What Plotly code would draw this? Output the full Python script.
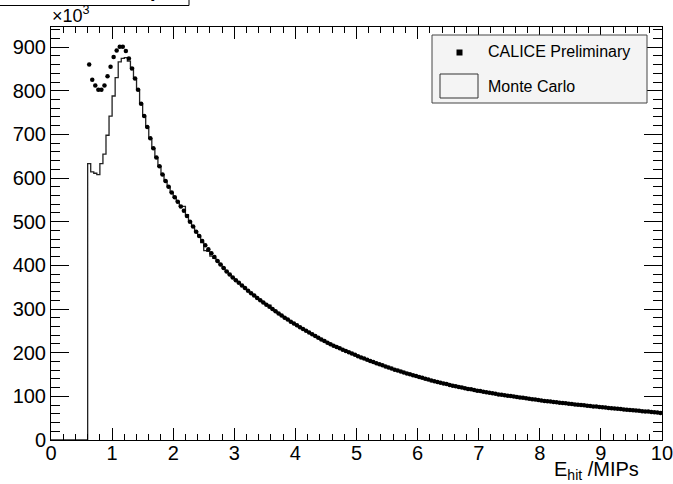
import plotly.graph_objects as go

# ---------------- data (values in units of 10^3) ----------------
bin_width = 0.05
first_edge = 0.60

data_vals = [
    860, 825, 812, 802, 802, 812, 833, 855, 877, 892,
    901, 901, 891, 874, 851, 828, 802, 770, 742, 717,
    691, 668, 647, 627, 608, 593, 580, 567, 556, 546,
    535, 525, 513, 500, 489, 477, 467, 456, 446, 437,
    428, 419, 410, 402, 394, 386, 379, 372, 366, 360,
    354, 348, 342, 336, 331, 325, 320, 315, 310, 305,
    300, 295, 290, 285, 280, 276, 271, 267, 263, 258.5,
    254, 250, 246, 242, 238, 234, 230, 226.5, 223, 219.5,
    216, 213, 210, 207, 204, 201, 198, 195, 192, 189,
    186.5, 184, 181, 178.5, 176, 173.5, 171, 168.5, 166, 163.5,
    161, 159, 157, 154.5, 152.5, 150.5, 148.5, 146.5, 144.5, 142.5,
    140.5, 138.5, 136.5, 134.5, 133, 131, 129.5, 128, 126, 124.5,
    123, 121.5, 120, 118.5, 117, 116, 114.5, 113, 112, 110.5,
    109.5, 108, 107, 106, 104.5, 103.5, 102.5, 101.5, 100.5, 99.5,
    98.5, 97.5, 96.5, 95.5, 94.5, 93.5, 92.5, 91.5, 90.5, 89.5,
    89, 88, 87, 86.5, 85.5, 84.5, 84, 83, 82.5, 81.5,
    81, 80, 79.5, 78.5, 78, 77, 76.5, 75.5, 75, 74.5,
    73.5, 73, 72, 71.5, 71, 70, 69.5, 69, 68, 67.5,
    67, 66, 65.5, 65, 64, 63.5, 63, 62,
]

mc_vals = [
    633, 614, 611, 608, 633, 655, 698, 742, 788, 830,
    866, 874, 876, 868, 853, 828, 802, 770, 742, 717,
    691, 668, 647, 627, 608, 593, 580, 567, 556, 546,
    535, 535, 516, 500, 489, 477, 467, 452, 434, 432,
    421, 416, 410, 402, 394, 386, 379, 372, 366, 360,
    354, 348, 342, 336, 331, 325, 320, 315, 310, 309,
    300, 295, 290, 285, 280, 276, 271, 267, 263, 258.5,
    254, 250, 246, 242, 238, 234, 230, 226.5, 223, 219.5,
    216, 213, 210, 207, 204, 201, 198, 195, 192, 189,
    186.5, 184, 181, 178.5, 176, 173.5, 171, 168.5, 166, 163.5,
    161, 159, 157, 154.5, 152.5, 150.5, 148.5, 146.5, 144.5, 142.5,
    140.5, 138.5, 136.5, 134.5, 133, 131, 129.5, 128, 126, 124.5,
    123, 121.5, 120, 118.5, 117, 116, 114.5, 113, 112, 110.5,
    109.5, 108, 107, 106, 104.5, 103.5, 102.5, 101.5, 100.5, 99.5,
    98.5, 97.5, 96.5, 95.5, 94.5, 93.5, 92.5, 91.5, 90.5, 89.5,
    89, 88, 87, 86.5, 85.5, 84.5, 84, 83, 82.5, 81.5,
    81, 80, 79.5, 78.5, 78, 77, 76.5, 75.5, 75, 74.5,
    73.5, 73, 72, 71.5, 71, 70, 69.5, 69, 68, 67.5,
    67, 66, 65.5, 65, 64, 63.5, 63, 62,
]

x_range = [0, 10.0001]
y_range = [0, 946]
x_ticks = list(range(0, 11))
y_ticks = list(range(0, 1000, 100))

data_label = "CALICE Preliminary"
mc_label = "Monte Carlo"
x_title = "E<sub>hit</sub> /MIPs"
y_multiplier = "\u00d710<sup>3</sup>"

# ---------------- derived bins ----------------
n = len(data_vals)
centers = [first_edge + bin_width * (i + 0.5) for i in range(n)]
edges = [first_edge + bin_width * i for i in range(n)]
mc_x = [0.0] + edges + [first_edge + bin_width * n]
mc_y = [0.0] + mc_vals + [mc_vals[-1]]

FONT = "Liberation Sans, Arial, Helvetica, sans-serif"

# layout geometry (pixels)
W, H = 673, 484
L, R, T, B = 51, 662, 27, 440
pw, ph = R - L, B - T


def px(xp):
    return (xp - L) / pw


def py(yp):
    return (B - yp) / ph


fig = go.Figure()
fig.add_trace(go.Scatter(
    x=mc_x, y=mc_y, mode="lines", line_shape="hv",
    line=dict(color="#222222", width=1.3), name=mc_label, showlegend=False,
    hoverinfo="skip",
))
fig.add_trace(go.Scatter(
    x=centers, y=data_vals, mode="markers",
    marker=dict(color="black", size=4.5, symbol="circle", line=dict(width=0)),
    name=data_label, showlegend=False,
))

axis_common = dict(
    showline=True, linecolor="black", linewidth=1, mirror="allticks",
    ticks="inside", tickcolor="black", tickwidth=1,
    showgrid=False, zeroline=False, automargin=False,
    tickfont=dict(family=FONT, size=20, color="black"),
    ticklabeloverflow="allow",
)

fig.update_xaxes(range=x_range, tickvals=x_ticks, ticklen=12,
                 ticklabelstandoff=-5,
                 minor=dict(dtick=0.2, ticks="inside", ticklen=6, tickcolor="black", showgrid=False),
                 **axis_common)
fig.update_yaxes(range=y_range, tickvals=y_ticks, ticklen=18,
                 minor=dict(dtick=20, ticks="inside", ticklen=9, tickcolor="black", showgrid=False),
                 **axis_common)

shapes = []
annotations = []

# legend box
shapes.append(dict(type="rect", xref="paper", yref="paper",
                   x0=px(432), x1=px(647), y0=py(103), y1=py(35),
                   line=dict(color="#444", width=1), fillcolor="#f4f4f4", layer="above"))
# data legend symbol
shapes.append(dict(type="rect", xref="paper", yref="paper",
                   x0=px(456.5), x1=px(462.5), y0=py(55.5), y1=py(49.5),
                   line=dict(color="black", width=0), fillcolor="black", layer="above"))
# MC legend symbol
shapes.append(dict(type="rect", xref="paper", yref="paper",
                   x0=px(440), x1=px(478), y0=py(98), y1=py(74),
                   line=dict(color="#333", width=1), fillcolor="#f4f4f4", layer="above"))
annotations.append(dict(text=data_label, xref="paper", yref="paper",
                        x=px(486), y=py(52), xanchor="left", yanchor="middle",
                        showarrow=False, font=dict(family=FONT, size=16, color="black")))
annotations.append(dict(text=mc_label, xref="paper", yref="paper",
                        x=px(486), y=py(86), xanchor="left", yanchor="middle",
                        showarrow=False, font=dict(family=FONT, size=16, color="black")))

# cut-off title box at top-left
shapes.append(dict(type="rect", xref="paper", yref="paper",
                   x0=px(-5), x1=px(189), y0=py(5.5), y1=py(-30),
                   line=dict(color="black", width=1), fillcolor="white", layer="above"))
annotations.append(dict(text="<b>p</b>", xref="paper", yref="paper",
                        x=px(156), y=py(-10), xanchor="center", yanchor="middle",
                        showarrow=False, font=dict(family=FONT, size=20, color="black")))

# axis multiplier and title
annotations.append(dict(text=y_multiplier, xref="paper", yref="paper",
                        x=px(50), y=py(15), xanchor="left", yanchor="middle",
                        showarrow=False, font=dict(family=FONT, size=18, color="black")))
annotations.append(dict(text=x_title, xref="paper", yref="paper",
                        x=px(641), y=py(470), xanchor="right", yanchor="middle",
                        showarrow=False, font=dict(family=FONT, size=20, color="black")))

fig.update_layout(
    width=W, height=H,
    margin=dict(l=L, r=W - R, t=T, b=H - B, pad=0),
    paper_bgcolor="white", plot_bgcolor="white",
    showlegend=False,
    shapes=shapes, annotations=annotations,
    font=dict(family=FONT, color="black"),
)

fig.write_html("out.html")
